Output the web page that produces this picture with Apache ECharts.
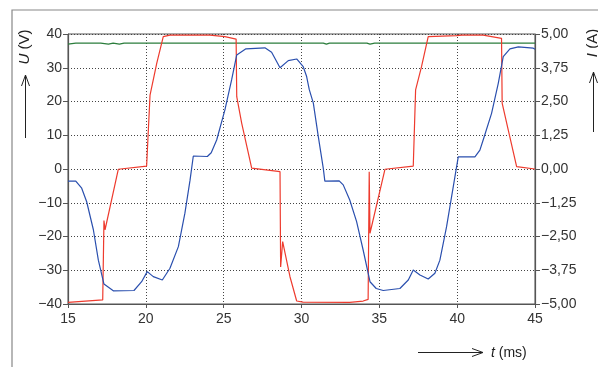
<!DOCTYPE html>
<html>
<head>
<meta charset="utf-8">
<script src="https://cdn.jsdelivr.net/npm/echarts@6/dist/echarts.min.js"></script>
<style>
  html, body { margin: 0; padding: 0; background: #fff; }
  #chart { width: 598px; height: 367px; }
</style>
</head>
<body>
<div id="chart"></div>
<script>
// Zeitachse und Achsen
var tTicks = [15, 20, 25, 30, 35, 40, 45];
var uRange = [-40, 40];
var iRange = [-5, 5];

// Spannung U (V) - blau
var uBlue = [
  [15, -3.6], [15.5, -3.6], [15.88, -5.7], [16.2, -9.7], [16.63, -18], [16.95, -27],
  [17.31, -34.1], [17.91, -36.1], [19.24, -36], [19.73, -33.4], [20.09, -30.4],
  [20.48, -31.9], [21.06, -32.9], [21.55, -29.4], [22.09, -23], [22.51, -13.1],
  [22.84, -3.3], [23.05, 3.85], [23.95, 3.7], [24.2, 4.8], [24.55, 8.6], [25.08, 17.5],
  [25.51, 26.4], [25.84, 33.8], [26.43, 35.6], [27.65, 35.9], [28.08, 34.6], [28.62, 30],
  [29.15, 32.1], [29.69, 32.6], [30.11, 30.3], [30.33, 27.4], [30.5, 23.5], [30.76, 19.5],
  [31.08, 9.6], [31.4, 0.2], [31.5, -3.6], [32.42, -3.5], [32.68, -4.7], [33.1, -9.2],
  [33.54, -15.6], [33.96, -24], [34.4, -33.4], [34.8, -35.4], [35.25, -36], [36.32, -35.4],
  [36.86, -32.9], [37.18, -29.9], [37.61, -31.4], [38.14, -32.6], [38.57, -30.9],
  [38.89, -27], [39.32, -17.1], [39.75, -5.2], [40.07, 3.6], [41.14, 3.6], [41.46, 5.6],
  [41.67, 8.6], [42.21, 16.5], [42.64, 25.4], [42.96, 33.3], [43.39, 35.6], [43.93, 36.2],
  [44.89, 35.8], [45, 35.5]
];

// Strom I (A) - rot
var iRed = [
  [15, -4.94], [17.23, -4.85], [17.31, -1.91], [17.38, -2.25], [18.23, -0.01], [20.05, 0.11],
  [20.27, 2.74], [20.7, 3.91], [21.12, 4.9], [21.55, 4.96], [24.12, 4.96], [25.08, 4.9],
  [25.8, 4.81], [25.84, 2.68], [26.16, 1.69], [26.8, 0.03], [28.62, -0.1], [28.66, -3.63],
  [28.79, -2.69], [29.26, -3.99], [29.69, -4.89], [30.1, -4.93], [33.1, -4.94],
  [33.96, -4.89], [34.28, -4.83], [34.35, -0.1], [34.4, -2.38], [35.36, -0.01],
  [37.18, 0.11], [37.33, 2.93], [37.71, 3.79], [38.14, 4.9], [39.96, 4.94], [40.3, 4.96],
  [41.67, 4.96], [42.85, 4.84], [42.89, 2.44], [43.28, 1.45], [43.82, 0.09], [45, 0]
];

// Versorgungsspannung (V) - gruen
var uGreen = [
  [15, 37.0], [15.5, 37.3], [17.1, 37.3], [17.6, 37.0], [17.9, 37.3], [18.3, 37.0],
  [18.6, 37.3], [31.4, 37.3], [31.6, 37.0], [31.8, 37.3], [34.2, 37.3], [34.4, 37.0],
  [34.7, 37.3], [45, 37.3]
];

function fmtMinus(s) { return String(s).replace('-', '\u2212'); }

var chart = echarts.init(document.getElementById('chart'));
var fontFam = 'Liberation Sans, Arial, sans-serif';
var labelStyle = { color: '#333', fontSize: 14, fontFamily: fontFam };
var axisCol = '#555';
var gridLine = { show: true, lineStyle: { color: '#444', type: [1, 2], width: 1 } };

var option = {
  animation: false,
  grid: { left: 68, right: 63, top: 34, bottom: 63, show: true, borderColor: axisCol, borderWidth: 1 },
  xAxis: {
    type: 'value', min: tTicks[0], max: tTicks[tTicks.length - 1], interval: 5,
    axisLine: { onZero: false, lineStyle: { color: axisCol, width: 1.2 } },
    axisTick: { show: true, length: 4, lineStyle: { color: axisCol } },
    axisLabel: Object.assign({ margin: 8 }, labelStyle),
    splitLine: gridLine
  },
  yAxis: [{
    type: 'value', min: uRange[0], max: uRange[1], interval: 10,
    axisLine: { show: true, onZero: false, lineStyle: { color: axisCol, width: 1.2 } },
    axisTick: { show: true, length: 5, lineStyle: { color: axisCol } },
    axisLabel: Object.assign({ margin: 6, formatter: function (v) { return fmtMinus(v); } }, labelStyle),
    splitLine: gridLine
  }, {
    type: 'value', min: iRange[0], max: iRange[1], interval: 1.25, position: 'right',
    axisLine: { show: true, onZero: false, lineStyle: { color: axisCol, width: 1.2 } },
    axisTick: { show: true, length: 5, lineStyle: { color: axisCol } },
    axisLabel: Object.assign({ margin: 6, formatter: function (v) { return fmtMinus(v.toFixed(2).replace('.', ',')); } }, labelStyle),
    splitLine: { show: false }
  }],
  series: [{
    type: 'line', data: uGreen, yAxisIndex: 0, symbol: 'none',
    lineStyle: { color: '#2b7d3c', width: 1.3 }, z: 3
  }, {
    type: 'line', data: iRed, yAxisIndex: 1, symbol: 'none',
    lineStyle: { color: '#ee3b2e', width: 1.2 }, z: 4
  }, {
    type: 'line', data: uBlue, yAxisIndex: 0, symbol: 'none',
    lineStyle: { color: '#2a4fae', width: 1.2 }, z: 5
  }],
  graphic: [
    // Rahmen
    { type: 'polyline', shape: { points: [[12, 367], [12, 10], [598, 10]] }, style: { stroke: '#888', lineWidth: 1.2, fill: null } },
    // linke Achsenbeschriftung
    { type: 'text', x: 25, y: 47, rotation: Math.PI / 2,
      style: { text: '{i|U} (V)', align: 'center', verticalAlign: 'middle', fill: '#222',
        font: '15px ' + fontFam,
        rich: { i: { fontStyle: 'italic', fontSize: 15, fontFamily: fontFam, fill: '#222' } } } },
    { type: 'polyline', shape: { points: [[25.5, 138], [25.5, 75]] }, style: { stroke: '#222', lineWidth: 1, fill: null } },
    { type: 'polyline', shape: { points: [[21.5, 86], [25.5, 75], [29.5, 86]] }, style: { stroke: '#222', lineWidth: 1, fill: null } },
    // rechte Achsenbeschriftung
    { type: 'text', x: 593, y: 43, rotation: Math.PI / 2,
      style: { text: '{i|I} (A)', align: 'center', verticalAlign: 'middle', fill: '#222',
        font: '15px ' + fontFam,
        rich: { i: { fontStyle: 'italic', fontSize: 15, fontFamily: fontFam, fill: '#222' } } } },
    { type: 'polyline', shape: { points: [[593.5, 132], [593.5, 72]] }, style: { stroke: '#222', lineWidth: 1, fill: null } },
    { type: 'polyline', shape: { points: [[589.5, 83], [593.5, 72], [597.5, 83]] }, style: { stroke: '#222', lineWidth: 1, fill: null } },
    // Zeitachse
    { type: 'polyline', shape: { points: [[418, 352.5], [483, 352.5]] }, style: { stroke: '#222', lineWidth: 1, fill: null } },
    { type: 'polyline', shape: { points: [[472, 348.5], [483, 352.5], [472, 356.5]] }, style: { stroke: '#222', lineWidth: 1, fill: null } },
    { type: 'text', x: 491, y: 353,
      style: { text: '{i|t} (ms)', align: 'left', verticalAlign: 'middle', fill: '#222',
        font: '14px ' + fontFam,
        rich: { i: { fontStyle: 'italic', fontSize: 14, fontFamily: fontFam, fill: '#222' } } } }
  ]
};
chart.setOption(option);
</script>
</body>
</html>
